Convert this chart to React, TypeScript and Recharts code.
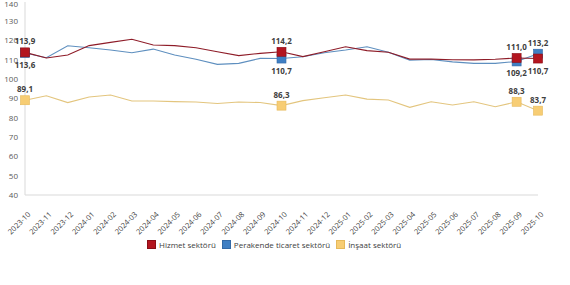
import React from 'react';
import { LineChart, Line, XAxis, YAxis, LabelList } from 'recharts';

const months = [
  '2023-10', '2023-11', '2023-12', '2024-01', '2024-02', '2024-03', '2024-04', '2024-05', '2024-06',
  '2024-07', '2024-08', '2024-09', '2024-10', '2024-11', '2024-12', '2025-01', '2025-02', '2025-03',
  '2025-04', '2025-05', '2025-06', '2025-07', '2025-08', '2025-09', '2025-10',
];

const hizmet = [
  113.9, 111.0, 112.5, 117.4, 119.1, 120.7, 117.7, 117.4, 116.3, 114.2, 112.2, 113.4, 114.2,
  111.7, 114.2, 116.8, 114.8, 114.0, 110.4, 110.4, 110.1, 110.0, 110.3, 111.0, 110.7,
];
const perakende = [
  113.6, 111.1, 117.3, 116.3, 115.1, 113.7, 115.6, 112.5, 110.3, 107.7, 108.2, 110.8, 110.7,
  111.6, 113.7, 115.1, 116.8, 114.0, 109.9, 110.2, 109.0, 108.2, 108.2, 109.2, 113.2,
];
const insaat = [
  89.1, 91.4, 87.9, 90.8, 91.8, 88.7, 88.7, 88.4, 88.2, 87.4, 88.2, 87.9, 86.3,
  88.9, 90.4, 91.8, 89.7, 89.2, 85.4, 88.3, 86.6, 88.3, 85.7, 88.3, 83.7,
];

const yTicks = [40, 50, 60, 70, 80, 90, 100, 110, 120, 130, 140];

// months that get a square marker and a value label
const markedIdx = [0, 12, 23, 24];

const series = [
  { key: 'insaat', name: 'İnşaat sektörü', line: '#E3C57E', fill: '#F7CD74', stroke: '#E6B95A', below: [] as number[] },
  { key: 'perakende', name: 'Perakende ticaret sektörü', line: '#5E8FBF', fill: '#3F7FC3', stroke: '#3269A6', below: [0, 12, 23] },
  { key: 'hizmet', name: 'Hizmet sektörü', line: '#8E1C28', fill: '#B3151F', stroke: '#8A0E16', below: [24] },
];
const legendOrder = ['hizmet', 'perakende', 'insaat'];

const data = months.map((m, i) => ({
  month: m,
  hizmet: hizmet[i],
  perakende: perakende[i],
  insaat: insaat[i],
}));

const FONT = '"Open Sans", "Noto Sans", sans-serif';

const fmt = (v: number) => v.toFixed(1).replace('.', ',');

const SquareDot = (color: string, border: string) => (props: any) => {
  const { cx, cy, index } = props;
  if (!markedIdx.includes(index)) return <g key={`d-${index}`} />;
  const s = 9;
  return (
    <rect
      key={`d-${index}`}
      x={cx - s / 2}
      y={cy - s / 2}
      width={s}
      height={s}
      fill={color}
      stroke={border}
      strokeWidth={0.6}
    />
  );
};

const ValueLabel = (below: number[]) => (props: any) => {
  const { x, y, value, index } = props;
  if (!markedIdx.includes(index)) return null;
  const isBelow = below.includes(index);
  return (
    <text
      x={x}
      y={isBelow ? y + 15 : y - 8}
      textAnchor="middle"
      fontSize={8}
      fontWeight="bold"
      fontFamily={FONT}
      fill="#404040"
    >
      {fmt(value)}
    </text>
  );
};

const MonthTick = (props: any) => {
  const { x, y, payload } = props;
  return (
    <text
      transform={`translate(${x + 6},${y + 12}) rotate(-45)`}
      textAnchor="end"
      fontSize={7.5}
      fontFamily={FONT}
      fill="#404040"
    >
      {payload.value}
    </text>
  );
};

export default function App() {
  return (
    <div style={{ position: 'absolute', left: 0, top: 0, width: 570, height: 285, background: '#fff' }}>
      <LineChart
        width={570}
        height={285}
        data={data}
        margin={{ top: 2, right: 32, left: 0, bottom: 50 }}
      >
        <XAxis
          dataKey="month"
          interval={0}
          height={40}
          tick={<MonthTick />}
          tickLine={false}
          axisLine={{ stroke: '#D9D9D9' }}
        />
        <YAxis
          domain={[40, 140]}
          ticks={yTicks}
          width={25}
          tickSize={0}
          tickMargin={7}
          tickLine={false}
          axisLine={{ stroke: '#D9D9D9' }}
          tick={{ fontSize: 8, fill: '#595959', fontFamily: FONT }}
        />
        {series.map((s) => (
          <Line
            key={s.key}
            type="linear"
            dataKey={s.key}
            name={s.name}
            stroke={s.line}
            strokeWidth={1.1}
            dot={SquareDot(s.fill, s.stroke)}
            activeDot={false}
            isAnimationActive={false}
          >
            <LabelList dataKey={s.key} content={ValueLabel(s.below)} />
          </Line>
        ))}
      </LineChart>
      <div
        style={{
          position: 'absolute',
          top: 239,
          left: 147,
          display: 'flex',
          alignItems: 'center',
          fontFamily: FONT,
          fontSize: 8,
          color: '#404040',
          whiteSpace: 'nowrap',
        }}
      >
        {legendOrder.map((k) => {
          const s = series.find((x) => x.key === k)!;
          return (
            <div key={k} style={{ display: 'flex', alignItems: 'center', marginRight: 6 }}>
              <span
                style={{
                  display: 'inline-block',
                  width: 7,
                  height: 7,
                  background: s.fill,
                  border: `0.5px solid ${s.stroke}`,
                  marginRight: 3,
                }}
              />
              <span>{s.name}</span>
            </div>
          );
        })}
      </div>
    </div>
  );
}
